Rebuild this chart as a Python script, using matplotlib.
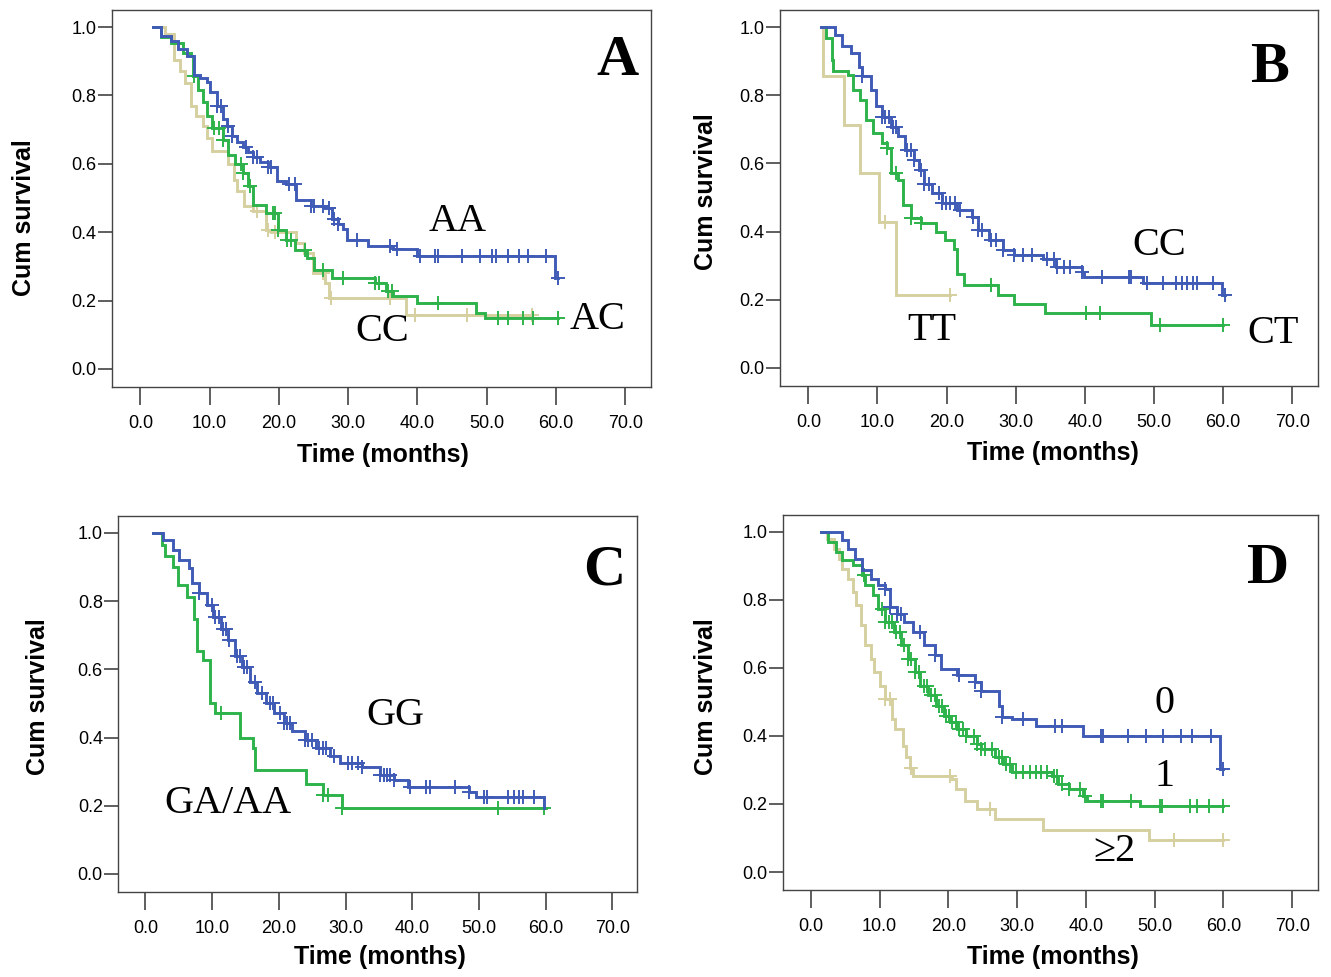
import matplotlib
matplotlib.use("Agg")
import matplotlib.pyplot as plt
import numpy as np

BLUE = "#3f5bb5"
GREEN = "#2eb34b"
TAN = "#d6d0a0"

# ---------------- panel A: AA / AC / CC ----------------
a_aa_t = [1.8, 3.0, 4.4, 5.5, 6.7, 7.8, 8.6, 9.6, 10.1, 11.1, 11.9, 12.5, 13.2, 14.0, 14.8, 15.6, 16.3,
          17.2, 18.4, 19.7, 21.0, 22.5, 24.6, 26.7, 27.7, 28.5, 29.3, 29.8, 32.9, 36.5, 39.9, 59.9]
a_aa_s = [1.0, 0.975, 0.958, 0.935, 0.914, 0.86, 0.85, 0.84, 0.81, 0.77, 0.73, 0.71, 0.68, 0.665, 0.65,
          0.635, 0.62, 0.605, 0.59, 0.55, 0.54, 0.495, 0.476, 0.47, 0.437, 0.425, 0.41, 0.378, 0.36,
          0.35, 0.33, 0.266]
a_aa_end = 60.3
a_aa_cens = [11.1, 11.7, 12.7, 13.2, 15.3, 16.3, 16.8, 18.4, 18.9, 21.5, 22.3, 24.6, 25.1, 26.4, 27.2,
             28.0, 28.5, 31.3, 36.0, 37.0, 40.4, 42.5, 43.0, 46.4, 49.0, 50.8, 51.3, 53.1, 54.7, 56.0,
             58.5, 60.3]

a_ac_t = [1.8, 3.0, 4.4, 6.2, 7.3, 7.6, 8.3, 9.0, 9.6, 10.4, 11.9, 12.7, 13.7, 14.8, 15.5, 16.3, 18.1,
          19.9, 21.0, 22.3, 24.1, 25.1, 27.7, 33.9, 35.5, 36.5, 39.9, 48.4, 49.7]
a_ac_s = [1.0, 0.97, 0.953, 0.924, 0.914, 0.856, 0.817, 0.78, 0.739, 0.705, 0.67, 0.627, 0.6, 0.573,
          0.534, 0.48, 0.456, 0.407, 0.378, 0.349, 0.325, 0.29, 0.266, 0.25, 0.227, 0.212, 0.193,
          0.164, 0.149]
a_ac_end = 60.3
a_ac_cens = [7.8, 10.6, 11.4, 11.9, 14.5, 14.8, 15.8, 19.2, 19.4, 19.9, 21.2, 21.8, 23.8, 26.4, 29.3,
             33.9, 34.5, 35.8, 36.3, 43.0, 51.6, 53.1, 55.2, 56.7, 60.3]

a_cc_t = [1.8, 3.6, 4.9, 5.7, 6.5, 7.3, 8.0, 9.1, 9.6, 10.4, 12.7, 13.5, 14.0, 15.0, 16.3, 18.1, 18.9,
          22.5, 23.6, 24.9, 26.7, 27.2, 38.3]
a_cc_s = [1.0, 0.98, 0.905, 0.87, 0.836, 0.768, 0.739, 0.71, 0.675, 0.636, 0.6, 0.554, 0.52, 0.476,
          0.461, 0.407, 0.4, 0.368, 0.34, 0.28, 0.25, 0.208, 0.159]
a_cc_end = 56.5
a_cc_cens = [16.8, 18.4, 19.4, 26.4, 27.5, 36.0, 39.6, 47.2, 56.5]

# ---------------- panel B: CC / CT / TT ----------------
b_cc_t = [1.8, 3.9, 4.9, 6.2, 7.3, 7.8, 9.1, 9.8, 10.6, 11.9, 12.9, 14.0, 15.3, 16.0, 16.8, 17.9, 19.4,
          21.5, 23.6, 24.6, 26.2, 28.2, 29.8, 33.9, 35.8, 39.6, 39.9, 48.4, 59.8]
b_cc_s = [1.0, 0.977, 0.943, 0.924, 0.884, 0.855, 0.816, 0.767, 0.737, 0.708, 0.679, 0.64, 0.61, 0.58,
          0.54, 0.512, 0.483, 0.463, 0.444, 0.404, 0.375, 0.346, 0.331, 0.321, 0.297, 0.282, 0.267,
          0.248, 0.213]
b_cc_end = 60.2
b_cc_cens = [7.8, 10.6, 11.1, 11.6, 12.2, 12.7, 14.2, 14.8, 15.3, 16.3, 16.8, 17.4, 18.9, 19.4, 19.9,
             20.5, 21.2, 22.0, 23.8, 24.6, 25.1, 26.4, 27.2, 28.2, 29.8, 31.1, 32.4, 34.5, 35.5, 36.0,
             37.0, 37.8, 39.6, 42.5, 46.4, 46.7, 49.0, 51.3, 53.1, 54.0, 54.8, 55.6, 56.2, 58.5, 60.2]

b_ct_t = [1.8, 2.6, 3.4, 3.6, 5.7, 6.5, 7.5, 8.3, 9.3, 10.6, 11.4, 11.9, 13.0, 13.7, 14.8, 16.3, 18.4,
          19.7, 21.0, 21.5, 22.5, 27.5, 29.8, 34.2, 49.5]
b_ct_s = [1.0, 0.968, 0.904, 0.87, 0.86, 0.816, 0.786, 0.728, 0.689, 0.659, 0.644, 0.571, 0.551, 0.478,
          0.439, 0.424, 0.4, 0.375, 0.35, 0.277, 0.243, 0.213, 0.189, 0.16, 0.125]
b_ct_end = 60.0
b_ct_cens = [11.4, 12.7, 14.8, 16.3, 26.4, 40.2, 42.2, 50.8, 60.0]

b_tt_t = [1.8, 2.1, 5.2, 7.5, 10.2, 12.7]
b_tt_s = [1.0, 0.857, 0.714, 0.571, 0.429, 0.214]
b_tt_end = 20.5
b_tt_cens = [11.1, 20.5]

# ---------------- panel C: GG / GA-AA ----------------
c_gg_t = [1.2, 2.7, 4.1, 5.1, 6.5, 7.0, 8.1, 9.2, 10.2, 11.3, 12.4, 13.4, 14.5, 15.6, 16.7, 18.0, 19.3,
          20.7, 22.0, 23.9, 25.5, 27.6, 29.2, 32.5, 35.1, 37.3, 39.4, 48.5, 49.6, 59.7]
c_gg_s = [1.0, 0.98, 0.951, 0.921, 0.897, 0.852, 0.823, 0.788, 0.754, 0.719, 0.685, 0.64, 0.606, 0.562,
          0.532, 0.502, 0.473, 0.443, 0.419, 0.394, 0.369, 0.345, 0.325, 0.315, 0.291, 0.276, 0.256,
          0.241, 0.227, 0.192]
c_gg_end = 59.7
c_gg_cens = [8.1, 10.0, 10.5, 11.0, 11.6, 12.1, 12.6, 13.7, 14.2, 14.8, 15.3, 16.4, 17.5, 18.6, 19.1,
             20.1, 20.7, 21.2, 21.7, 23.9, 24.4, 25.0, 26.0, 26.6, 27.1, 28.2, 30.3, 30.9, 31.9, 32.5,
             35.1, 35.7, 36.2, 36.7, 37.3, 39.7, 42.1, 42.6, 46.4, 48.5, 50.7, 51.2, 54.4, 55.2, 56.0,
             56.6, 58.2]

c_ga_t = [1.2, 2.5, 3.0, 4.2, 4.9, 6.2, 7.3, 7.7, 8.6, 9.7, 10.5, 14.2, 16.1, 16.4, 24.0, 26.6, 29.5]
c_ga_s = [1.0, 0.966, 0.931, 0.901, 0.847, 0.813, 0.749, 0.655, 0.626, 0.502, 0.473, 0.399, 0.369,
          0.305, 0.264, 0.232, 0.192]
c_ga_end = 60.0
c_ga_cens = [11.3, 26.6, 27.4, 29.5, 52.8, 59.7]

# ---------------- panel D: 0 / 1 / >=2 ----------------
d_0_t = [1.5, 4.6, 5.4, 6.4, 7.4, 8.7, 9.7, 10.8, 11.5, 12.6, 13.6, 14.9, 16.5, 18.0, 19.0, 21.3, 23.9,
         24.7, 27.3, 27.8, 29.3, 32.7, 39.6, 59.5]
d_0_s = [1.0, 0.975, 0.951, 0.921, 0.887, 0.862, 0.843, 0.833, 0.779, 0.759, 0.735, 0.705, 0.666, 0.637,
         0.597, 0.578, 0.558, 0.533, 0.489, 0.455, 0.45, 0.43, 0.401, 0.303]
d_0_end = 60.0
d_0_cens = [10.8, 11.5, 12.6, 13.1, 15.9, 18.0, 21.6, 23.9, 24.7, 27.8, 30.9, 35.5, 36.5, 42.2, 42.5,
            46.1, 48.7, 51.2, 53.8, 55.4, 58.2, 60.0]

d_1_t = [1.5, 2.5, 3.6, 4.6, 6.1, 7.4, 7.9, 9.0, 9.7, 10.8, 12.1, 13.1, 14.1, 15.2, 15.9, 17.0, 18.2,
         19.3, 20.3, 21.3, 22.6, 24.2, 24.7, 26.8, 28.0, 29.3, 35.0, 36.0, 37.6, 39.6, 40.2, 47.9]
d_1_s = [1.0, 0.97, 0.941, 0.917, 0.902, 0.872, 0.843, 0.813, 0.774, 0.735, 0.705, 0.666, 0.627, 0.587,
         0.548, 0.519, 0.489, 0.46, 0.44, 0.42, 0.401, 0.376, 0.361, 0.337, 0.317, 0.293, 0.283, 0.258,
         0.244, 0.224, 0.209, 0.195]
d_1_end = 60.0
d_1_cens = [7.7, 10.3, 10.8, 11.3, 11.8, 12.4, 12.9, 13.6, 14.1, 14.6, 15.2, 15.7, 16.4, 16.9, 17.5,
            18.0, 18.6, 19.1, 19.6, 20.1, 20.6, 21.1, 21.6, 22.1, 22.6, 23.7, 24.2, 24.8, 25.3, 26.3,
            27.3, 27.8, 28.4, 28.9, 29.8, 30.9, 31.9, 32.7, 33.5, 34.3, 35.3, 35.8, 36.5, 37.6, 39.1,
            39.9, 42.2, 42.5, 46.6, 50.7, 51.0, 55.1, 56.1, 57.9, 59.9]

d_2_t = [1.5, 2.3, 3.3, 4.1, 4.6, 5.4, 6.1, 6.6, 7.3, 7.9, 8.7, 9.2, 10.0, 10.8, 11.8, 12.3, 13.4,
         13.9, 14.4, 14.9, 20.6, 21.1, 22.4, 24.2, 26.8, 33.7, 49.2]
d_2_s = [1.0, 0.98, 0.951, 0.921, 0.892, 0.862, 0.823, 0.784, 0.725, 0.666, 0.627, 0.587, 0.548, 0.509,
         0.45, 0.42, 0.371, 0.337, 0.307, 0.283, 0.273, 0.244, 0.209, 0.185, 0.155, 0.124, 0.093]
d_2_end = 60.0
d_2_cens = [10.8, 11.5, 14.6, 20.3, 26.0, 52.8, 59.9]

x_ticks = [0, 10, 20, 30, 40, 50, 60, 70]
y_ticks = [0.0, 0.2, 0.4, 0.6, 0.8, 1.0]

SANS = ["Liberation Sans", "DejaVu Sans"]
SERIF = ["Liberation Serif", "DejaVu Serif"]


def km_curve(ax, t, s, end, cens, color):
    x = list(t) + [end]
    y = list(s) + [s[-1]]
    ax.step(x, y, where="post", color=color, lw=2.1, solid_joinstyle="miter")
    idx = np.searchsorted(t, cens, side="right") - 1
    ax.plot(cens, np.array(s)[idx], "+", color=color, ms=10.5, mew=1.4, ls="none")


def setup_axes(ax, ylab_xy, xlab_xy):
    ax.set_xlim(-4.1, 73.7)
    ax.set_ylim(-0.053, 1.05)
    ax.set_xticks(x_ticks)
    ax.set_xticklabels([f"{v:.1f}" for v in x_ticks], family=SANS, fontsize=13)
    ax.set_yticks(y_ticks)
    ax.set_yticklabels([f"{v:.1f}" for v in y_ticks], family=SANS, fontsize=13)
    ax.tick_params(axis="x", direction="out", length=13, width=1.1, pad=7, color="#333333")
    ax.tick_params(axis="y", direction="out", length=10, width=1.1, pad=1, color="#333333")
    for sp in ax.spines.values():
        sp.set_linewidth(1.0)
        sp.set_color("#444444")
    ax.set_ylabel("Cum survival", family=SANS, fontsize=18, fontweight="bold")
    ax.set_xlabel("Time (months)", family=SANS, fontsize=18, fontweight="bold")
    ax.yaxis.set_label_coords(*ylab_xy)
    ax.xaxis.set_label_coords(*xlab_xy)


fig = plt.figure(figsize=(13.31, 9.77), dpi=100)
axA = fig.add_axes([0.0841, 0.6039, 0.405, 0.3859])
axB = fig.add_axes([0.586, 0.6049, 0.4042, 0.3849])
axC = fig.add_axes([0.0887, 0.087, 0.39, 0.385])
axD = fig.add_axes([0.588, 0.089, 0.402, 0.384])

# A
km_curve(axA, a_cc_t, a_cc_s, a_cc_end, a_cc_cens, TAN)
km_curve(axA, a_ac_t, a_ac_s, a_ac_end, a_ac_cens, GREEN)
km_curve(axA, a_aa_t, a_aa_s, a_aa_end, a_aa_cens, BLUE)
setup_axes(axA, (-0.141, 0.45), (0.503, -0.149))
axA.text(45.8, 0.43, "AA", family=SERIF, fontsize=29, ha="center", va="center")
axA.text(66.0, 0.145, "AC", family=SERIF, fontsize=29, ha="center", va="center")
axA.text(34.9, 0.108, "CC", family=SERIF, fontsize=29, ha="center", va="center")
axA.text(68.8, 0.90, "A", family=SERIF, fontsize=42, fontweight="bold", ha="center", va="center")

# B
km_curve(axB, b_tt_t, b_tt_s, b_tt_end, b_tt_cens, TAN)
km_curve(axB, b_ct_t, b_ct_s, b_ct_end, b_ct_cens, GREEN)
km_curve(axB, b_cc_t, b_cc_s, b_cc_end, b_cc_cens, BLUE)
setup_axes(axB, (-0.115, 0.516), (0.507, -0.146))
axB.text(50.7, 0.358, "CC", family=SERIF, fontsize=29, ha="center", va="center")
axB.text(17.9, 0.11, "TT", family=SERIF, fontsize=29, ha="center", va="center")
axB.text(67.2, 0.10, "CT", family=SERIF, fontsize=29, ha="center", va="center")
axB.text(66.7, 0.88, "B", family=SERIF, fontsize=42, fontweight="bold", ha="center", va="center")

# C
km_curve(axC, c_ga_t, c_ga_s, c_ga_end, c_ga_cens, GREEN)
km_curve(axC, c_gg_t, c_gg_s, c_gg_end, c_gg_cens, BLUE)
setup_axes(axC, (-0.131, 0.519), (0.505, -0.141))
axC.text(37.5, 0.465, "GG", family=SERIF, fontsize=29, ha="center", va="center")
axC.text(12.4, 0.207, "GA/AA", family=SERIF, fontsize=29, ha="center", va="center")
axC.text(68.7, 0.89, "C", family=SERIF, fontsize=42, fontweight="bold", ha="center", va="center")

# D
km_curve(axD, d_2_t, d_2_s, d_2_end, d_2_cens, TAN)
km_curve(axD, d_1_t, d_1_s, d_1_end, d_1_cens, GREEN)
km_curve(axD, d_0_t, d_0_s, d_0_end, d_0_cens, BLUE)
setup_axes(axD, (-0.121, 0.515), (0.505, -0.147))
axD.text(51.4, 0.495, "0", family=SERIF, fontsize=29, ha="center", va="center")
axD.text(51.4, 0.28, "1", family=SERIF, fontsize=29, ha="center", va="center")
axD.text(44.2, 0.061, "\u22652", family=SERIF, fontsize=29, ha="center", va="center")
axD.text(66.5, 0.89, "D", family=SERIF, fontsize=42, fontweight="bold", ha="center", va="center")

fig.savefig("out.png", dpi=100)
